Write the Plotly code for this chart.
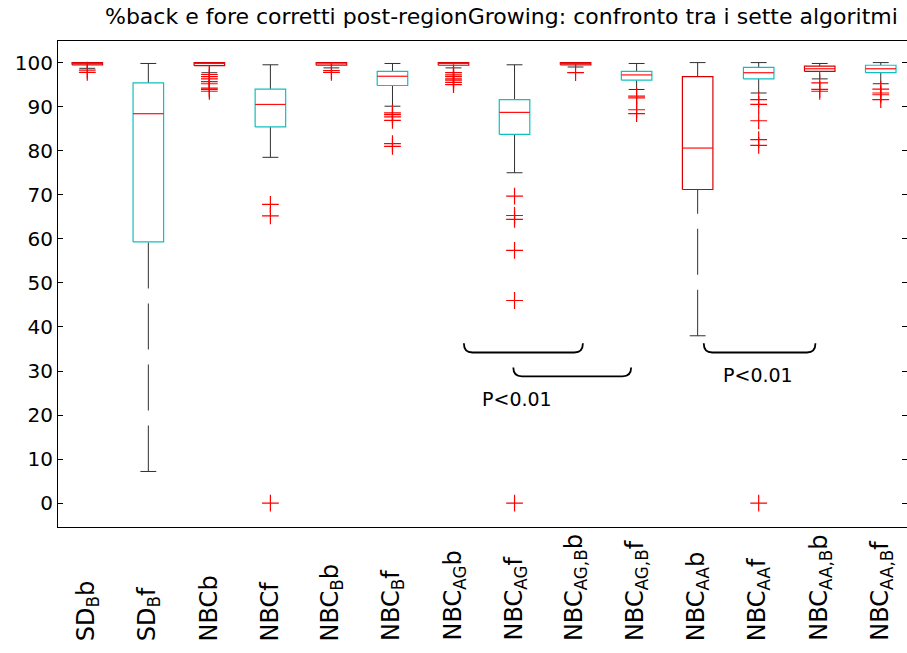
import plotly.graph_objects as go

# Groups in plotting order
labels = [
    "SD<sub>B</sub>b",
    "SD<sub>B</sub>f",
    "NBCb",
    "NBCf",
    "NBC<sub>B</sub>b",
    "NBC<sub>B</sub>f",
    "NBC<sub>AG</sub>b",
    "NBC<sub>AG</sub>f",
    "NBC<sub>AG,B</sub>b",
    "NBC<sub>AG,B</sub>f",
    "NBC<sub>AA</sub>b",
    "NBC<sub>AA</sub>f",
    "NBC<sub>AA,B</sub>b",
    "NBC<sub>AA,B</sub>f",
]

# Box statistics (%)
whisker_hi = [100.0, 99.8, 100.0, 99.5, 100.0, 99.8, 100.0, 99.5, 100.0, 99.8, 100.0, 100.0, 99.8, 100.0]
q3 = [100.0, 95.4, 100.0, 94.0, 100.0, 98.0, 100.0, 91.6, 100.0, 98.0, 96.8, 98.9, 99.2, 99.4]
median = [99.8, 88.4, 99.8, 90.5, 99.7, 96.9, 99.8, 88.7, 99.8, 97.2, 80.6, 97.7, 98.6, 98.6]
q1 = [99.5, 59.3, 99.3, 85.4, 99.4, 94.8, 99.4, 83.7, 99.5, 96.0, 71.2, 96.3, 98.0, 97.7]
whisker_lo = [98.7, 7.2, 97.7, 78.5, 98.8, 90.1, 98.8, 75.0, 99.0, 93.9, 38.0, 93.1, 96.3, 95.2]

outliers = [
    [98.3, 97.8],
    [],
    [97.3, 96.8, 96.3, 95.7, 95.2, 94.2, 93.9, 93.5],
    [67.8, 65.2, 0.0],
    [98.2, 97.8],
    [88.6, 88.2, 87.7, 86.9, 81.6, 81.0],
    [97.7, 97.2, 96.8, 96.3, 96.0, 95.5, 95.0],
    [69.7, 65.3, 64.4, 57.4, 46.0, 0.0],
    [97.7],
    [92.4, 92.0, 89.3, 88.4],
    [],
    [91.6, 90.5, 86.8, 82.5, 81.2, 0.0],
    [95.4, 93.9, 93.5],
    [94.0, 93.1, 92.7, 91.6],
]

# Significance brackets: (x start, x end, top, bottom) and their labels
brackets = [(7.17, 9.12, 36.3, 34.2), (7.98, 9.91, 30.8, 28.8), (11.1, 12.93, 36.3, 34.2)]
pvalue_text = ["P&lt;0.01", "P&lt;0.01"]
pvalue_pos = [(8.04, 23.6), (11.99, 29.0)]

yticks = list(range(0, 101, 10))
title = "%back e fore corretti post-regionGrowing: confronto tra i sette algoritmi"

FONT = "DejaVu Sans"
RED_BOX = "#d80000"
CYAN_BOX = "#10c0c0"
MED = "#ff1010"
WHISK = "#303030"
HALF_W = 0.25
CAP_HALF = 0.13
Y_RANGE = [-5.4, 104.9]

fig = go.Figure()
positions = list(range(1, len(labels) + 1))

for i, x in enumerate(positions):
    # whiskers, dashed starting from the far end
    for end, edge in ((whisker_lo[i], q1[i]), (whisker_hi[i], q3[i])):
        if abs(end - edge) > 1e-9:
            fig.add_trace(go.Scatter(x=[x, x], y=[end, edge], mode="lines",
                                     line=dict(color=WHISK, width=1, dash="46px,15px"),
                                     hoverinfo="skip", showlegend=False))
        fig.add_trace(go.Scatter(x=[x - CAP_HALF, x + CAP_HALF], y=[end, end], mode="lines",
                                 line=dict(color=WHISK, width=1),
                                 hoverinfo="skip", showlegend=False))
    color = RED_BOX if i % 2 == 0 else CYAN_BOX
    fig.add_trace(go.Scatter(
        x=[x - HALF_W, x + HALF_W, x + HALF_W, x - HALF_W, x - HALF_W],
        y=[q1[i], q1[i], q3[i], q3[i], q1[i]],
        mode="lines", line=dict(color=color, width=1.2),
        hoverinfo="skip", showlegend=False))
    fig.add_trace(go.Scatter(x=[x - HALF_W, x + HALF_W], y=[median[i], median[i]],
                             mode="lines", line=dict(color=MED, width=1.2),
                             hoverinfo="skip", showlegend=False))
    if outliers[i]:
        fig.add_trace(go.Scatter(
            x=[x] * len(outliers[i]), y=outliers[i], mode="markers",
            marker=dict(symbol="cross-thin", size=12, color="#ff0000",
                        line=dict(color="#ff0000", width=1.2)),
            hoverinfo="skip", showlegend=False))

# invisible trace carrying the mirrored right-hand axis
fig.add_trace(go.Scatter(x=[1], y=[50], yaxis="y2", mode="markers",
                         marker=dict(opacity=0), hoverinfo="skip", showlegend=False))

shapes = []
for x0, x1, yt, yb in brackets:
    rx = 0.14
    path = (f"M {x0},{yt} Q {x0},{yb} {x0 + rx},{yb} "
            f"L {x1 - rx},{yb} Q {x1},{yb} {x1},{yt}")
    shapes.append(dict(type="path", path=path, xref="x", yref="y",
                       line=dict(color="#000000", width=1.8)))

annotations = []
for (px, py), txt in zip(pvalue_pos, pvalue_text):
    annotations.append(dict(x=px, y=py, xref="x", yref="y", text=txt, showarrow=False,
                            font=dict(family=FONT, size=19, color="#000000"),
                            xanchor="center", yanchor="middle"))

for x, lab in zip(positions, labels):
    annotations.append(dict(x=x, y=-0.2387, xref="x", yref="paper", text=lab,
                            textangle=-90, showarrow=False,
                            font=dict(family=FONT, size=24, color="#000000"),
                            xanchor="center", yanchor="bottom"))

annotations.append(dict(x=0.522, y=1.05, xref="paper", yref="paper", text=title,
                        showarrow=False, font=dict(family=FONT, size=22, color="#000000"),
                        xanchor="center", yanchor="middle"))

fig.update_layout(
    width=907, height=653,
    margin=dict(l=58, r=0, t=41, b=126),
    paper_bgcolor="white", plot_bgcolor="white",
    shapes=shapes, annotations=annotations,
    xaxis=dict(range=[0.52, 14.43], showgrid=False, zeroline=False,
               showline=True, linecolor="#000000", linewidth=1, mirror=True,
               ticks="", showticklabels=False),
    yaxis=dict(range=Y_RANGE, tickvals=yticks, ticktext=[str(v) for v in yticks],
               showgrid=False, zeroline=False, showline=True, linecolor="#000000",
               linewidth=1, ticks="inside", ticklen=5, tickcolor="#000000",
               tickfont=dict(family=FONT, size=20, color="#000000")),
    yaxis2=dict(range=Y_RANGE, overlaying="y", side="right", anchor="x",
                tickvals=yticks, showticklabels=False, showgrid=False, zeroline=False,
                showline=False, ticks="inside", ticklen=5, tickcolor="#000000"),
)

fig.write_html("out.html")
